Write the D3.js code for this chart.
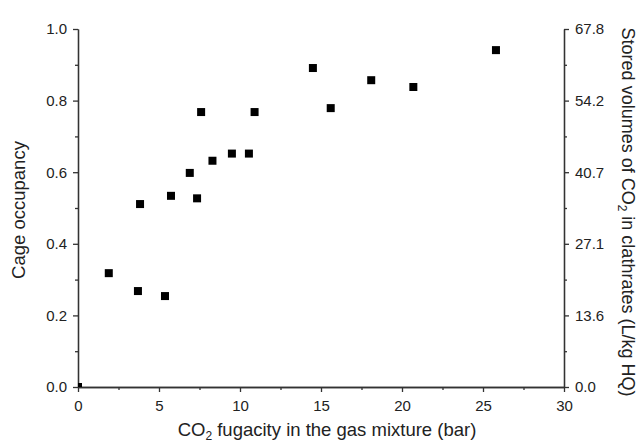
<html>
<head>
<meta charset="utf-8">
<script src="https://d3js.org/d3.v7.min.js"></script>
<style>
body { margin: 0; background: #fff; }
text { font-family: "Liberation Sans", Arial, sans-serif; fill: #222; }
</style>
</head>
<body>
<script>
// CO2 fugacity (bar) vs cage occupancy
var fugacity = [0, 1.9, 3.7, 5.37, 3.83, 5.74, 7.35, 6.9, 7.6, 8.3, 9.5, 10.55, 10.9, 14.5, 15.6, 18.1, 20.7, 25.8]
var occupancy = [0, 0.318, 0.268, 0.254, 0.511, 0.534, 0.527, 0.598, 0.768, 0.632, 0.652, 0.652, 0.768, 0.891, 0.779, 0.857, 0.838, 0.941]
var xTicks = [0, 5, 10, 15, 20, 25, 30]
var yTicks = [0, 0.2, 0.4, 0.6, 0.8, 1.0]
var rightTicks = ["0.0", "13.6", "27.1", "40.7", "54.2", "67.8"]

var width = 637, height = 442
// plot area edges (note: "top" is reserved on window, so use m*)
var mLeft = 78, mRight = 564, mTop = 29, mBottom = 387

var svg = d3.select("body").append("svg")
  .attr("width", width)
  .attr("height", height)

var x = d3.scaleLinear().domain([0, 30]).range([mLeft, mRight])
var y = d3.scaleLinear().domain([0, 1]).range([mBottom, mTop])

function styleAxis(g) {
  g.selectAll("path, line").attr("stroke", "#333").attr("stroke-width", 1.3)
  g.selectAll("text").style("font-size", "15px").attr("fill", "#222")
}

// minor ticks
var minorX = [2.5, 7.5, 12.5, 17.5, 22.5, 27.5]
var minorY = [0.1, 0.3, 0.5, 0.7, 0.9]

svg.append("g").attr("transform", "translate(0," + mBottom + ")")
  .call(d3.axisBottom(x).tickValues(xTicks).tickFormat(d3.format("d")).tickSize(5).tickSizeOuter(0).tickPadding(8))
  .call(styleAxis)
svg.append("g").attr("transform", "translate(0," + mBottom + ")")
  .call(d3.axisBottom(x).tickValues(minorX).tickFormat("").tickSize(3).tickSizeOuter(0))
  .call(styleAxis)

svg.append("g").attr("transform", "translate(" + mLeft + ",0)")
  .call(d3.axisLeft(y).tickValues(yTicks).tickFormat(d3.format(".1f")).tickSize(5).tickSizeOuter(0).tickPadding(6))
  .call(styleAxis)
svg.append("g").attr("transform", "translate(" + mLeft + ",0)")
  .call(d3.axisLeft(y).tickValues(minorY).tickFormat("").tickSize(3).tickSizeOuter(0))
  .call(styleAxis)

svg.append("g").attr("transform", "translate(" + mRight + ",0)")
  .call(d3.axisRight(y).tickValues(yTicks).tickFormat((d, i) => rightTicks[i]).tickSize(5).tickSizeOuter(0).tickPadding(6))
  .call(styleAxis)
svg.append("g").attr("transform", "translate(" + mRight + ",0)")
  .call(d3.axisRight(y).tickValues(minorY).tickFormat("").tickSize(3).tickSizeOuter(0))
  .call(styleAxis)

// points
var pts = fugacity.map((f, i) => ({x: f, y: occupancy[i]}))
svg.append("g").selectAll("rect")
  .data(pts)
  .enter()
  .append("rect")
  .attr("x", d => d.x == 0 ? x(d.x) : x(d.x) - 4)
  .attr("y", d => y(d.y) - 4)
  .attr("width", d => d.x == 0 ? 4 : 8)
  .attr("height", d => d.x == 0 ? 4 : 8)
  .attr("fill", "#000")

// axis titles
var xt = svg.append("text")
  .attr("x", 327)
  .attr("y", 436)
  .attr("text-anchor", "middle")
  .style("font-size", "18.5px")
xt.append("tspan").text("CO")
xt.append("tspan").text("2").attr("dy", 4).style("font-size", "12px")
xt.append("tspan").text(" fugacity in the gas mixture (bar)").attr("dy", -4)

svg.append("text")
  .attr("transform", "translate(25,210) rotate(-90)")
  .attr("text-anchor", "middle")
  .style("font-size", "18.5px")
  .text("Cage occupancy")

var rt = svg.append("text")
  .attr("transform", "translate(622,212) rotate(90)")
  .attr("text-anchor", "middle")
  .style("font-size", "18px")
rt.append("tspan").text("Stored volumes of CO")
rt.append("tspan").text("2").attr("dy", 4).style("font-size", "12px")
rt.append("tspan").text(" in clathrates (L/kg HQ)").attr("dy", -4)
</script>
</body>
</html>
